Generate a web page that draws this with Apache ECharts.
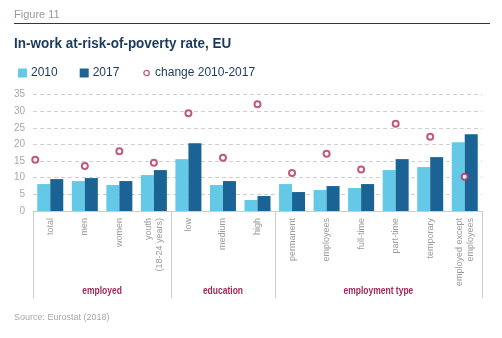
<!DOCTYPE html>
<html><head><meta charset="utf-8">
<script src="https://cdn.jsdelivr.net/npm/echarts@6/dist/echarts.min.js"></script>
<style>html,body{margin:0;padding:0;background:#fff}#c{width:502px;height:338px}</style>
</head><body><div id="c"></div>
<script>
var categories = ['total','men','women','youth\n(18-24 years)','low','medium','high','permanent','employees','full-time','part-time','temporary','employed except\nemployees'];
var values2010 = [8.1, 9.0, 7.8, 10.8, 15.6, 7.8, 3.3, 8.1, 6.3, 6.9, 12.3, 13.2, 20.7];
var values2017 = [9.6, 9.9, 9.0, 12.3, 20.4, 9.0, 4.5, 5.7, 7.5, 8.1, 15.6, 16.2, 23.1];
var changes = [15.4, 13.5, 18.0, 14.5, 29.4, 16.0, 32.1, 11.4, 17.2, 12.5, 26.2, 22.3, 10.3];
var groups = [
  {name: 'employed', from: 0, to: 3},
  {name: 'education', from: 4, to: 6},
  {name: 'employment type', from: 7, to: 12}
];
var yTicks = [0, 5, 10, 15, 20, 25, 30, 35];

var C1 = '#63c9e6', C2 = '#1a6394', CR = '#b03060', NAVY = '#1b3a5c';
var FONT = '"Liberation Sans", Arial, sans-serif';
var groupStarts = groups.map(function (g) { return g.from; });

var chart = echarts.init(document.getElementById('c'), null, {renderer: 'canvas'});
var option = {
  animation: false,
  textStyle: {fontFamily: FONT},
  grid: {left: 33, right: 20, top: 94.6, bottom: 127, containLabel: false},
  legend: {
    left: 13, top: 62, itemWidth: 9, itemHeight: 9, itemGap: 22,
    textStyle: {fontSize: 12, color: NAVY, fontFamily: FONT, padding: [0, 0, 0, -1]},
    data: [
      {name: '2010', icon: 'rect'},
      {name: '2017', icon: 'rect'},
      {name: 'change 2010-2017', icon: 'path://M0,0M10,10M8,5A3,3,0,1,1,2,5A3,3,0,1,1,8,5Z',
        itemStyle: {color: '#ffffff', borderColor: CR, borderWidth: 1.3}}
    ]
  },
  xAxis: {
    type: 'category', data: categories,
    axisLine: {lineStyle: {color: '#cccccc', width: 1}},
    axisTick: {show: true, length: 87, lineStyle: {color: '#cccccc'},
      interval: function (i) { return groupStarts.indexOf(i) >= 0; }},
    axisLabel: {interval: 0, rotate: 90, margin: 7, color: '#9a9a9a', fontSize: 9, lineHeight: 11, fontFamily: FONT}
  },
  yAxis: {
    type: 'value', min: yTicks[0], max: yTicks[yTicks.length - 1], interval: 5,
    axisLine: {show: false}, axisTick: {show: false},
    axisLabel: {color: '#a8a8a8', fontSize: 10, margin: 8, fontFamily: FONT},
    splitLine: {lineStyle: {color: '#cfcfcf', type: [4, 3], width: 1}}
  },
  series: [
    {name: '2010', type: 'bar', data: values2010, barWidth: 13, barGap: '0%', itemStyle: {color: C1}},
    {name: '2017', type: 'bar', data: values2017, barWidth: 13, barGap: '0%', itemStyle: {color: C2}},
    {name: 'change 2010-2017', type: 'scatter', symbol: 'emptyCircle', symbolSize: 6, z: 5,
      itemStyle: {color: CR, borderColor: CR, borderWidth: 1.6},
      data: changes.map(function (v, i) { return i === 0 ? {value: v, symbolOffset: [-15, 0]} : v; })}
  ],
  graphic: [
    {type: 'text', x: 14, y: 9, style: {text: 'Figure 11', fill: '#9a9a9a', fontSize: 11, fontFamily: FONT}},
    {type: 'line', shape: {x1: 14, y1: 23.5, x2: 490, y2: 23.5}, style: {stroke: NAVY, lineWidth: 1}},
    {type: 'text', x: 14, y: 36, scaleX: 0.93, style: {text: 'In-work at-risk-of-poverty rate, EU', fill: NAVY, fontSize: 14.5, fontWeight: 'bold', fontFamily: FONT}},
    {type: 'text', x: 14, y: 313, style: {text: 'Source: Eurostat (2018)', fill: '#a8a8a8', fontSize: 9, fontFamily: FONT}}
  ]
};
chart.setOption(option);

var extra = groups.map(function (g) {
  var x = (chart.convertToPixel({xAxisIndex: 0}, g.from) + chart.convertToPixel({xAxisIndex: 0}, g.to)) / 2;
  return {type: 'text', x: x, y: 291, scaleX: 0.85, style: {text: g.name, fill: '#a3285a', fontSize: 10, fontWeight: 'bold', fontFamily: FONT, align: 'center', verticalAlign: 'middle'}};
});
chart.setOption({graphic: option.graphic.concat(extra)});
</script></body></html>
